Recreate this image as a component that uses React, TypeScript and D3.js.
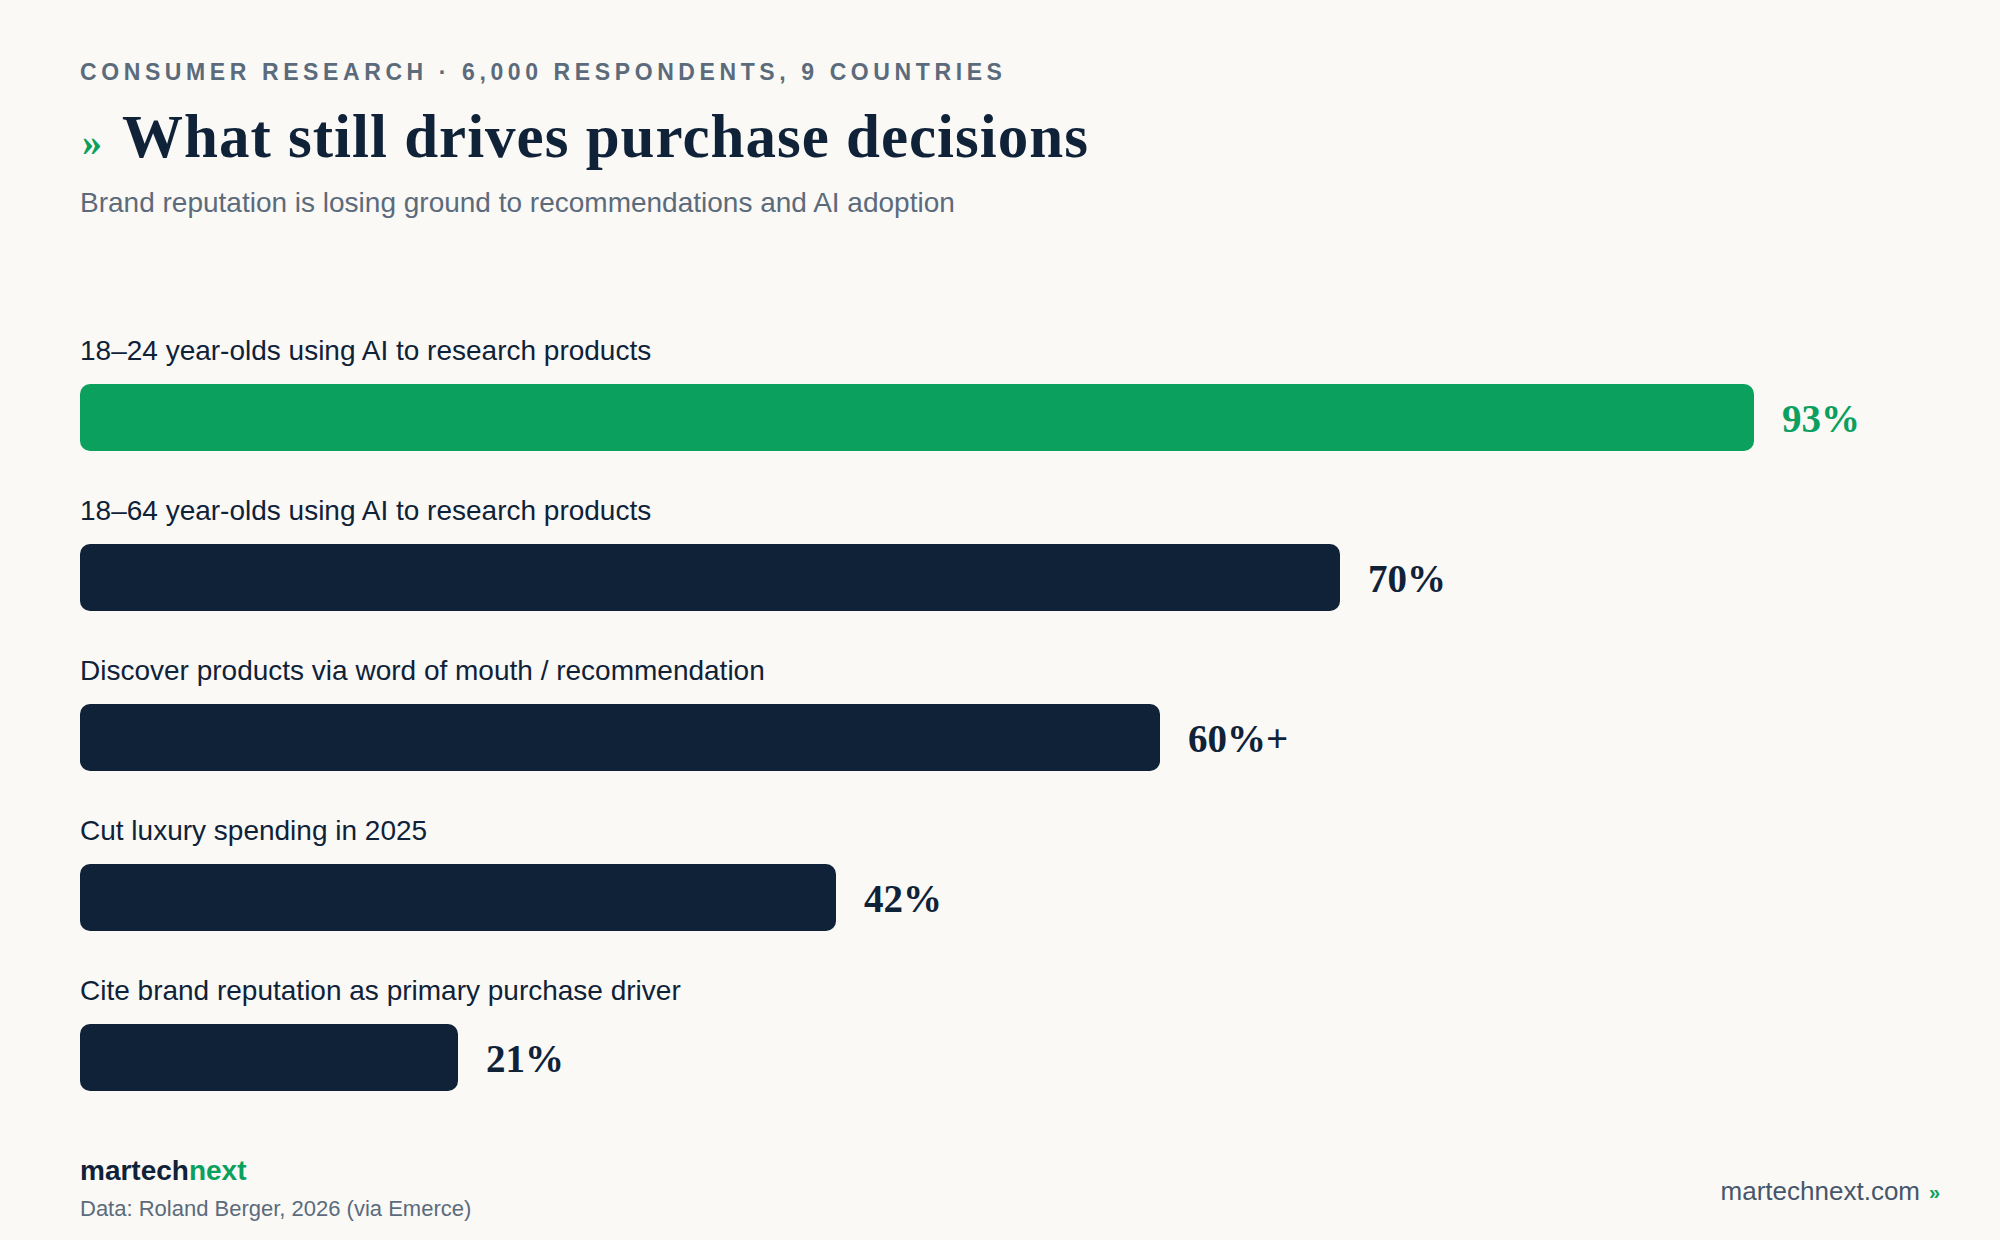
import React from "react";
import * as d3 from "d3";

const categories: string[] = [
  "18–24 year-olds using AI to research products",
  "18–64 year-olds using AI to research products",
  "Discover products via word of mouth / recommendation",
  "Cut luxury spending in 2025",
  "Cite brand reputation as primary purchase driver",
];
const values: number[] = [93, 70, 60, 42, 21];
const valueLabels: string[] = ["93%", "70%", "60%+", "42%", "21%"];
const highlighted: boolean[] = [true, false, false, false, false];

const W = 2000;
const H = 1240;
const BG = "#faf9f6";
const NAVY = "#0f2238";
const GREEN = "#0ca05f";
const SLATE = "#5b6b7b";
const SANS = "'Liberation Sans', Arial, Helvetica, sans-serif";
const SERIF = "'Liberation Serif', 'DejaVu Serif', Georgia, serif";

export default function App() {
  const x = d3.scaleLinear().domain([0, 100]).range([80, 1880]);
  const y = d3
    .scaleBand<number>()
    .domain(d3.range(categories.length))
    .range([384, 384 + 160 * categories.length])
    .paddingInner(0)
    .paddingOuter(0);
  const barH = 67;

  return (
    <>
      <style>{`body{margin:0;background:${BG};}`}</style>
      <svg width={W} height={H} viewBox={`0 0 ${W} ${H}`} style={{ display: "block", background: BG }}>
        <rect x={0} y={0} width={W} height={H} fill={BG} />
        {/* eyebrow */}
        <text x={80} y={80} fontFamily={SANS} fontWeight={700} fontSize={23} letterSpacing={4.6} fill={SLATE}>
          CONSUMER RESEARCH · 6,000 RESPONDENTS, 9 COUNTRIES
        </text>
        {/* title */}
        <text x={82} y={155} fontFamily={SERIF} fontWeight={700} fontSize={40} fill={GREEN}>
          »
        </text>
        <text x={122} y={157} fontFamily={SERIF} fontWeight={700} fontSize={61} letterSpacing={1} fill={NAVY}>
          What still drives purchase decisions
        </text>
        {/* subtitle */}
        <text x={80} y={212} fontFamily={SANS} fontSize={28} fill={SLATE}>
          Brand reputation is losing ground to recommendations and AI adoption
        </text>

        {/* bars */}
        {categories.map((c, i) => {
          const top = y(i) as number;
          const color = highlighted[i] ? GREEN : NAVY;
          return (
            <g key={c}>
              <text x={80} y={top - 24} fontFamily={SANS} fontSize={28} fill={NAVY}>
                {c}
              </text>
              <rect x={x(0)} y={top} width={x(values[i]) - x(0)} height={barH} rx={10} ry={10} fill={color} />
              <text
                x={x(values[i]) + 28}
                y={top + barH / 2 + 14}
                fontFamily={SERIF}
                fontWeight={700}
                fontSize={39}
                fill={color}
              >
                {valueLabels[i]}
              </text>
            </g>
          );
        })}

        {/* footer */}
        <text x={80} y={1180} fontFamily={SANS} fontWeight={700} fontSize={28} fill={NAVY}>
          martech<tspan fill={GREEN}>next</tspan>
        </text>
        <text x={80} y={1216} fontFamily={SANS} fontSize={22} fill={SLATE}>
          Data: Roland Berger, 2026 (via Emerce)
        </text>
        <text x={1920} y={1200} textAnchor="end" fontFamily={SANS} fontSize={26} fill="#46566a">
          martechnext.com
        </text>
        <text x={1929} y={1199} fontFamily={SANS} fontWeight={700} fontSize={20} fill={GREEN}>
          »
        </text>
      </svg>
    </>
  );
}
